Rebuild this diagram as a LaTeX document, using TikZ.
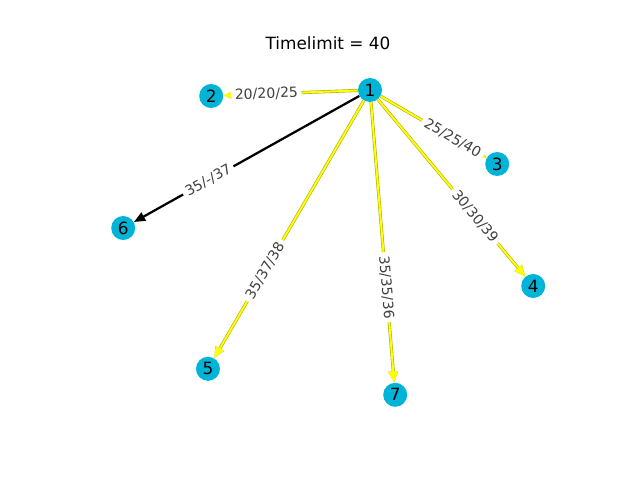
\documentclass[tikz,border=0pt]{standalone}
\usepackage{fontspec}
\setmainfont{DejaVu Sans}
\usepackage{xcolor}
\definecolor{nodecyan}{RGB}{0,180,216}
\definecolor{edgeyellow}{RGB}{255,255,0}
\definecolor{edgerim}{RGB}{170,170,20}
\definecolor{labelgray}{RGB}{64,64,64}
\usetikzlibrary{arrows.meta}

\tikzset{
  vertex/.style={circle, fill=nodecyan, minimum size=0.6cm, inner sep=0pt, font=\fontsize{12}{14}\selectfont},
  yedge/.style={-{Triangle[length=8pt,width=6.5pt]}, draw=edgeyellow, line width=1.4pt,
    preaction={draw=edgerim, line width=2.2pt}},
  kedge/.style={-{Triangle[length=8pt,width=6.5pt]}, draw=black, line width=1.6pt},
  elabel/.style={sloped, fill=white, rounded corners=2pt, inner sep=2.5pt, text=labelgray, font=\fontsize{10}{12}\selectfont}
}

\begin{document}
\begin{tikzpicture}
  \useasboundingbox (0,0) rectangle (16,12);

  \node[font=\fontsize{12}{14}\selectfont] (title) at (8.2,10.93) {Timelimit = 40};

  \node[vertex] (v1) at (9.25,9.75)  {1};
  \node[vertex] (v2) at (5.28,9.6)   {2};
  \node[vertex] (v3) at (12.43,7.9)  {3};
  \node[vertex] (v4) at (13.33,4.85) {4};
  \node[vertex] (v5) at (5.2,2.78)   {5};
  \node[vertex] (v6) at (3.08,6.3)   {6};
  \node[vertex] (v7) at (9.88,2.13)  {7};

  % edges first, labels drawn over them
  \draw[yedge] (v1) -- (v2);
  \draw[yedge] (v1) -- (v3);
  \draw[yedge] (v1) -- (v4);
  \draw[yedge] (v1) -- (v5);
  \draw[yedge] (v1) -- (v7);
  \draw[kedge] (v1) -- (v6);

  \path (v1) -- (v2) node[elabel, pos=0.68] (l12) {20/20/25};
  \path (v1) -- (v3) node[elabel, pos=0.68] (l13) {25/25/40};
  \path (v1) -- (v4) node[elabel, pos=0.66] (l14) {30/30/39};
  \path (v1) -- (v5) node[elabel, pos=0.66] (l15) {35/37/38};
  \path (v1) -- (v6) node[elabel, pos=0.67] (l16) {35/-/37};
  \path (v1) -- (v7) node[elabel, pos=0.66] (l17) {35/35/36};
\end{tikzpicture}
\end{document}
